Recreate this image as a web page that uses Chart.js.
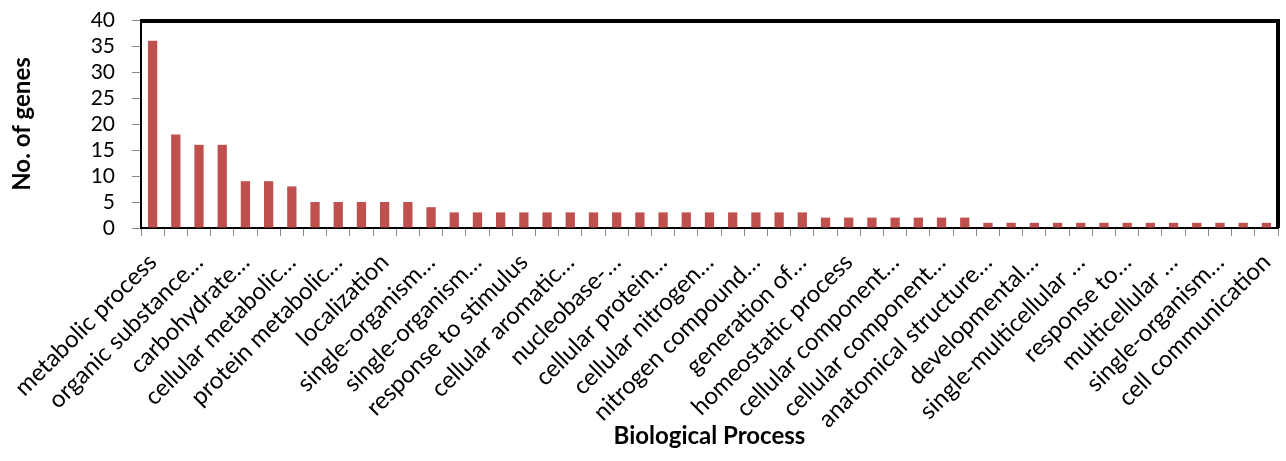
<!DOCTYPE html>
<html><head><meta charset="utf-8">
<script src="https://cdn.jsdelivr.net/npm/chart.js@4/dist/chart.umd.min.js"></script>
<style>html,body{margin:0;padding:0;background:#fff}#wrap{width:1286px;height:461px}</style>
</head><body><div id="wrap"><canvas id="c" width="1286" height="461"></canvas></div>
<script>
const categories = [
 "metabolic process","b2","organic substance…","b4","carbohydrate…","b6","cellular metabolic…","b8",
 "protein metabolic…","b10","localization","b12","single-organism…","b14","single-organism…","b16",
 "response to stimulus","b18","cellular aromatic…","b20","nucleobase-…","b22","cellular protein…","b24",
 "cellular nitrogen…","b26","nitrogen compound…","b28","generation of…","b30","homeostatic process","b32",
 "cellular component…","b34","cellular component…","b36","anatomical structure…","b38","developmental…","b40",
 "single-multicellular …","b42","response to…","b44","multicellular …","b46","single-organism…","b48",
 "cell communication"
];
const geneCounts = [36,18,16,16,9,9,8,5,5,5,5,5,4,3,3,3,3,3,3,3,3,3,3,3,3,3,3,3,3,2,2,2,2,2,2,2,1,1,1,1,1,1,1,1,1,1,1,1,1];
const yTicks = [0,5,10,15,20,25,30,35,40];

const FONT = "Lato, 'Open Sans', sans-serif";
const borderPlugin = {
  id:'frame',
  afterDatasetsDraw(chart){
    const {ctx, chartArea:a} = chart;
    ctx.save();
    ctx.strokeStyle='#000'; ctx.lineWidth=4;
    ctx.beginPath();
    ctx.moveTo(a.left, a.top+1); ctx.lineTo(a.right, a.top+1); ctx.lineTo(a.right, a.bottom);
    ctx.stroke();
    ctx.restore();
  }
};
new Chart(document.getElementById('c'), {
  type:'bar',
  data:{labels:categories, datasets:[{data:geneCounts, backgroundColor:'#C0504D', barPercentage:0.4, categoryPercentage:1}]},
  options:{
    responsive:false, animation:false,
    layout:{padding:{left:8,right:8,top:20,bottom:10}},
    plugins:{legend:{display:false}, tooltip:{enabled:false}},
    scales:{
      x:{
        grid:{display:true, offset:true, drawOnChartArea:false, color:'#888', tickLength:8, lineWidth:1},
        border:{display:true, color:'#000', width:2},
        ticks:{autoSkip:false, maxRotation:45, minRotation:45, padding:12, color:'#000',
          font:{family:FONT, size:24},
          callback:function(v,i){ return i%2===0 ? categories[i] : ''; }},
        title:{display:true, text:'Biological Process', color:'#000', font:{family:FONT, size:24, weight:'bold'}, padding:{top:0,bottom:0}},
        afterFit(s){ s.height = 461-228-10; s.paddingLeft = 0; s.paddingRight = 0; }
      },
      y:{
        min:0, max:40,
        afterBuildTicks(s){ s.ticks = yTicks.map(v=>({value:v})); },
        grid:{display:true, drawOnChartArea:false, color:'#888', tickLength:9},
        border:{display:true, color:'#000', width:2},
        ticks:{autoSkip:false, color:'#000', padding:17, font:{family:FONT, size:21}},
        title:{display:true, text:'No. of genes', color:'#000', font:{family:FONT, size:24, weight:'bold'}, padding:{top:0,bottom:0}},
        afterFit(s){ s.width = 141-8; s.paddingTop = 0; s.paddingBottom = 0; }
      }
    }
  },
  plugins:[borderPlugin]
});
</script></body></html>
